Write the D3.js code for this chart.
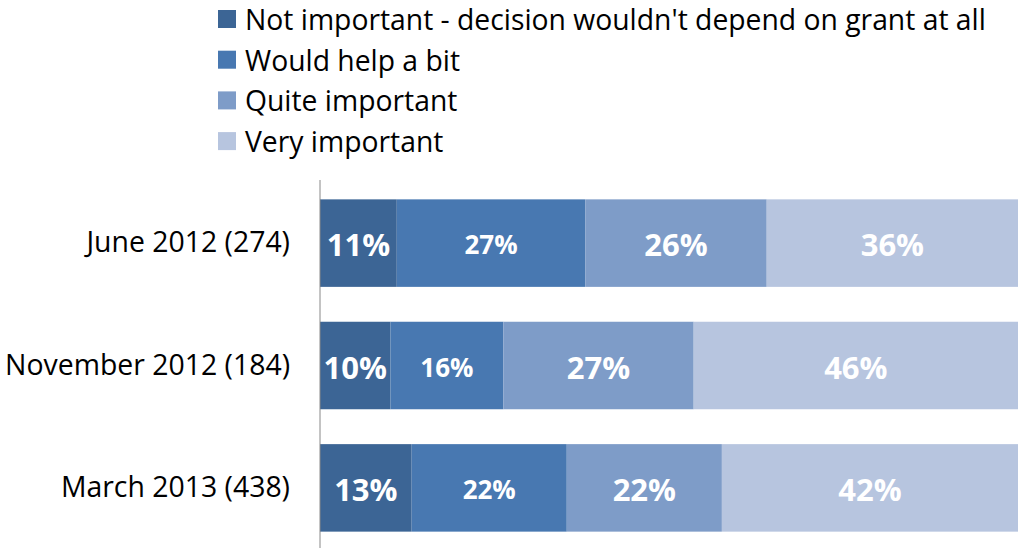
<!DOCTYPE html>
<html><head><meta charset="utf-8">
<script src="https://cdn.jsdelivr.net/npm/d3@7"></script>
<style>body{margin:0;background:#fff}</style>
</head><body>
<svg id="c" width="1025" height="550"></svg>
<script>
const categories = ["June 2012 (274)", "November 2012 (184)", "March 2013 (438)"];
const seriesNames = ["Not important - decision wouldn't depend on grant at all", "Would help a bit", "Quite important", "Very important"];
const notImportant = [11, 10, 13];
const helpABit = [27, 16, 22];
const quiteImportant = [26, 27, 22];
const veryImportant = [36, 46, 42];
const colors = ["#3c6595", "#4878b1", "#7e9cc8", "#b7c5df"];

const values = [notImportant, helpABit, quiteImportant, veryImportant];
const svg = d3.select("#c");
const font = "Open Sans, Noto Sans, sans-serif";

const x = d3.scaleLinear().domain([0, 1]).range([320, 1018]);
const y = d3.scaleBand().domain(categories).range([181, 550]).paddingInner(0.285).paddingOuter(0.15);

const rows = categories.map((c, i) => {
  const vals = values.map(s => s[i]);
  const tot = d3.sum(vals);
  let acc = 0;
  return vals.map((v, k) => { const s = {cat: c, k, v, x0: acc / tot, x1: (acc + v) / tot}; acc += v; return s; });
});

const g = svg.append("g");
rows.flat().forEach(d => {
  g.append("rect").attr("x", x(d.x0)).attr("y", y(d.cat)).attr("width", x(d.x1) - x(d.x0)).attr("height", y.bandwidth()).attr("fill", colors[d.k]);
  g.append("text").attr("x", (x(d.x0) + x(d.x1)) / 2).attr("y", y(d.cat) + y.bandwidth() / 2 + 1)
    .attr("text-anchor", "middle").attr("dominant-baseline", "central")
    .attr("fill", "#fff").attr("font-weight", "bold").attr("font-family", font)
    .attr("font-size", d.k === 1 ? 26 : 31).text(d.v + "%");
});

const axis = svg.append("g").attr("transform", "translate(320,0)")
  .call(d3.axisLeft(y).tickSize(0).tickPadding(30));
axis.select(".domain").attr("stroke", "#888").attr("d", "M0,180V548");
axis.selectAll("text").attr("font-family", font).attr("font-size", 28.4).attr("fill", "#000");

const leg = svg.append("g");
seriesNames.forEach((n, i) => {
  const yy = 19 + i * 40.7;
  leg.append("rect").attr("x", 218).attr("y", yy - 9).attr("width", 18).attr("height", 18).attr("fill", colors[i]);
  leg.append("text").attr("x", 245).attr("y", yy).attr("dominant-baseline", "central")
    .attr("font-family", font).attr("font-size", 28.3).attr("fill", "#000").text(n);
});
</script>
</body></html>
